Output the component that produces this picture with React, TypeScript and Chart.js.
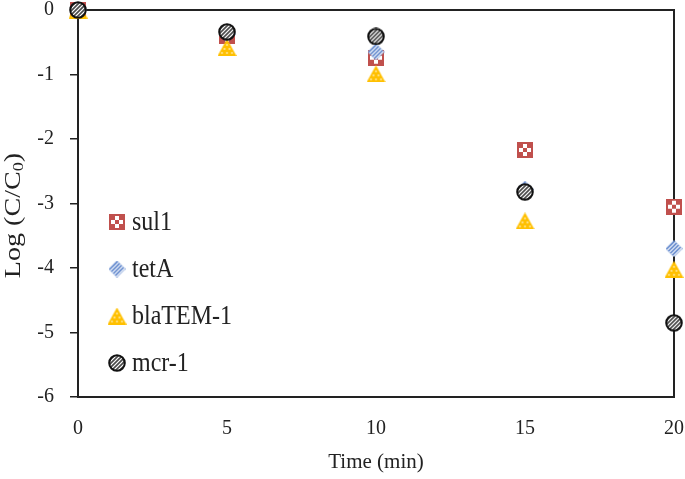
import React, { useEffect, useRef } from "react";
import { Chart, registerables } from "chart.js";

Chart.register(...registerables);

const times = [0, 5, 10, 15, 20];
const sul1 = [0, -0.4, -0.74, -2.17, -3.05];
const tetA = [0, -0.37, -0.65, -2.78, -3.7];
const blaTEM1 = [0, -0.58, -0.99, -3.27, -4.02];
const mcr1 = [0, -0.34, -0.41, -2.82, -4.85];
const seriesNames = ["sul1", "tetA", "blaTEM-1", "mcr-1"];
const xTicks = [0, 5, 10, 15, 20];
const yTicks = [0, -1, -2, -3, -4, -5, -6];

const INK = "#222222";
const FONT = "'Liberation Serif', 'Times New Roman', serif";

function mk(w: number, h: number) {
  const c = document.createElement("canvas");
  c.width = w;
  c.height = h;
  return c;
}

function makeSquare() {
  const s = 16;
  const c = mk(s, s);
  const g = c.getContext("2d")!;
  g.fillStyle = "#C0504D";
  g.fillRect(0, 0, s, s);
  g.fillStyle = "#ffffff";
  const cell = 4;
  for (let r = 0; r < 3; r++) {
    for (let k = 0; k < 3; k++) {
      if ((r + k) % 2 === 1) g.fillRect(2 + k * cell, 2 + r * cell, cell, cell);
    }
  }
  return c;
}

function stripes(g: CanvasRenderingContext2D, w: number, h: number, color: string, lw: number, gap: number) {
  g.strokeStyle = color;
  g.lineWidth = lw;
  for (let d = -h; d < w + h; d += gap) {
    g.beginPath();
    g.moveTo(d, h);
    g.lineTo(d + h, 0);
    g.stroke();
  }
}

function makeDiamond() {
  const s = 17;
  const c = mk(s, s);
  const g = c.getContext("2d")!;
  g.beginPath();
  g.moveTo(s / 2, 0);
  g.lineTo(s, s / 2);
  g.lineTo(s / 2, s);
  g.lineTo(0, s / 2);
  g.closePath();
  g.fillStyle = "#4472C4";
  g.fill();
  g.save();
  g.clip();
  stripes(g, s, s, "#ffffff", 1.3, 4);
  g.restore();
  return c;
}

function makeTriangle() {
  const w = 19;
  const h = 17;
  const c = mk(w, h);
  const g = c.getContext("2d")!;
  g.beginPath();
  g.moveTo(w / 2, 0);
  g.lineTo(w, h);
  g.lineTo(0, h);
  g.closePath();
  g.fillStyle = "#FFC000";
  g.fill();
  g.fillStyle = "#ffffff";
  const dots = [
    [9.5, 6],
    [7, 10],
    [12, 10],
    [4.5, 14],
    [9.5, 14],
    [14.5, 14],
  ];
  for (const [x, y] of dots) g.fillRect(x - 0.7, y - 0.7, 1.4, 1.4);
  return c;
}

function makeCircle() {
  const s = 18;
  const c = mk(s, s);
  const g = c.getContext("2d")!;
  const r = s / 2 - 1.2;
  g.beginPath();
  g.arc(s / 2, s / 2, r, 0, Math.PI * 2);
  g.fillStyle = "#ffffff";
  g.fill();
  g.save();
  g.clip();
  stripes(g, s, s, "#4a4a4a", 1.6, 4);
  g.restore();
  g.beginPath();
  g.arc(s / 2, s / 2, r, 0, Math.PI * 2);
  g.strokeStyle = "#111111";
  g.lineWidth = 2;
  g.stroke();
  return c;
}

export default function App() {
  const ref = useRef<HTMLCanvasElement | null>(null);

  useEffect(() => {
    if (!ref.current) return;
    const styles = [makeSquare(), makeDiamond(), makeTriangle(), makeCircle()];
    const values = [sul1, tetA, blaTEM1, mcr1];

    const framePlugin = {
      id: "frame",
      beforeDatasetsDraw(chart: any) {
        const { ctx, chartArea: a } = chart;
        ctx.save();
        ctx.strokeStyle = INK;
        ctx.lineWidth = 2;
        ctx.beginPath();
        ctx.moveTo(a.left, a.top);
        ctx.lineTo(a.right, a.top);
        ctx.lineTo(a.right, a.bottom);
        ctx.stroke();
        ctx.restore();
      },
    };

    const overlayPlugin = {
      id: "overlay",
      afterDraw(chart: any) {
        const { ctx, chartArea: a } = chart;
        ctx.save();
        const lx = a.left + 39;
        const ly0 = a.top + 212;
        const step = 47;
        seriesNames.forEach((name, i) => {
          const img = styles[i];
          const y = ly0 + i * step;
          ctx.drawImage(img, lx - img.width / 2, y - img.height / 2);
          ctx.save();
          ctx.translate(lx + 15, y + 1);
          ctx.scale(1, 1.18);
          ctx.fillStyle = INK;
          ctx.font = `24px ${FONT}`;
          ctx.textBaseline = "middle";
          ctx.textAlign = "left";
          ctx.fillText(name, 0, 0);
          ctx.restore();
        });
        const cy = (a.top + a.bottom) / 2 + 12;
        ctx.translate(14, cy);
        ctx.rotate(-Math.PI / 2);
        ctx.scale(1.22, 1);
        ctx.fillStyle = INK;
        ctx.textBaseline = "middle";
        ctx.textAlign = "left";
        const big = `23px ${FONT}`;
        const small = `15px ${FONT}`;
        ctx.font = big;
        const p1 = "Log (C/C";
        const w1 = ctx.measureText(p1).width;
        ctx.font = small;
        const w2 = ctx.measureText("0").width;
        ctx.font = big;
        const w3 = ctx.measureText(")").width;
        const total = w1 + w2 + w3;
        let x = -total / 2;
        ctx.fillText(p1, x, 0);
        x += w1;
        ctx.font = small;
        ctx.fillText("0", x, 5);
        x += w2;
        ctx.font = big;
        ctx.fillText(")", x, 0);
        ctx.restore();
      },
    };

    const chart = new Chart(ref.current, {
      type: "scatter",
      data: {
        datasets: seriesNames.map((name, i) => ({
          label: name,
          data: times.map((t, j) => ({ x: t, y: values[i][j] })),
          pointStyle: styles[i] as any,
          pointRadius: 9,
          pointHoverRadius: 9,
          showLine: false,
          clip: false as any,
          order: 4 - i,
        })),
      },
      options: {
        animation: false,
        responsive: false,
        maintainAspectRatio: false,
        events: [],
        layout: { autoPadding: false, padding: { top: 10, right: 11, left: 0, bottom: 0 } },
        plugins: {
          legend: { display: false },
          tooltip: { enabled: false },
        },
        scales: {
          x: {
            type: "linear",
            min: 0,
            max: 20,
            afterFit(scale: any) {
              scale.height = 82;
              scale.paddingLeft = 0;
              scale.paddingRight = 0;
            },
            afterBuildTicks(scale: any) {
              scale.ticks = xTicks.map((v) => ({ value: v }));
            },
            grid: { display: false, drawTicks: false },
            border: { display: true, color: INK, width: 2 },
            ticks: {
              color: INK,
              font: { family: FONT, size: 20 },
              padding: 20,
              maxRotation: 0,
            },
            title: {
              display: true,
              text: "Time (min)",
              color: INK,
              font: { family: FONT, size: 21 },
              padding: { top: 0, bottom: 4 },
            },
          },
          y: {
            type: "linear",
            min: -6,
            max: 0,
            afterFit(scale: any) {
              scale.width = 78;
              scale.paddingTop = 0;
              scale.paddingBottom = 0;
            },
            afterBuildTicks(scale: any) {
              scale.ticks = yTicks.map((v) => ({ value: v }));
            },
            grid: {
              drawOnChartArea: false,
              drawTicks: true,
              tickLength: 8,
              color: INK,
              lineWidth: 1.5,
            },
            border: { display: true, color: INK, width: 2 },
            ticks: {
              color: INK,
              font: { family: FONT, size: 20 },
              padding: 16,
            },
          },
        },
      },
      plugins: [framePlugin, overlayPlugin],
    } as any);

    return () => chart.destroy();
  }, []);

  return (
    <div style={{ position: "fixed", left: 0, top: 0, width: 685, height: 479, background: "#fff" }}>
      <canvas ref={ref} width={685} height={479} style={{ width: 685, height: 479, display: "block" }} />
    </div>
  );
}
